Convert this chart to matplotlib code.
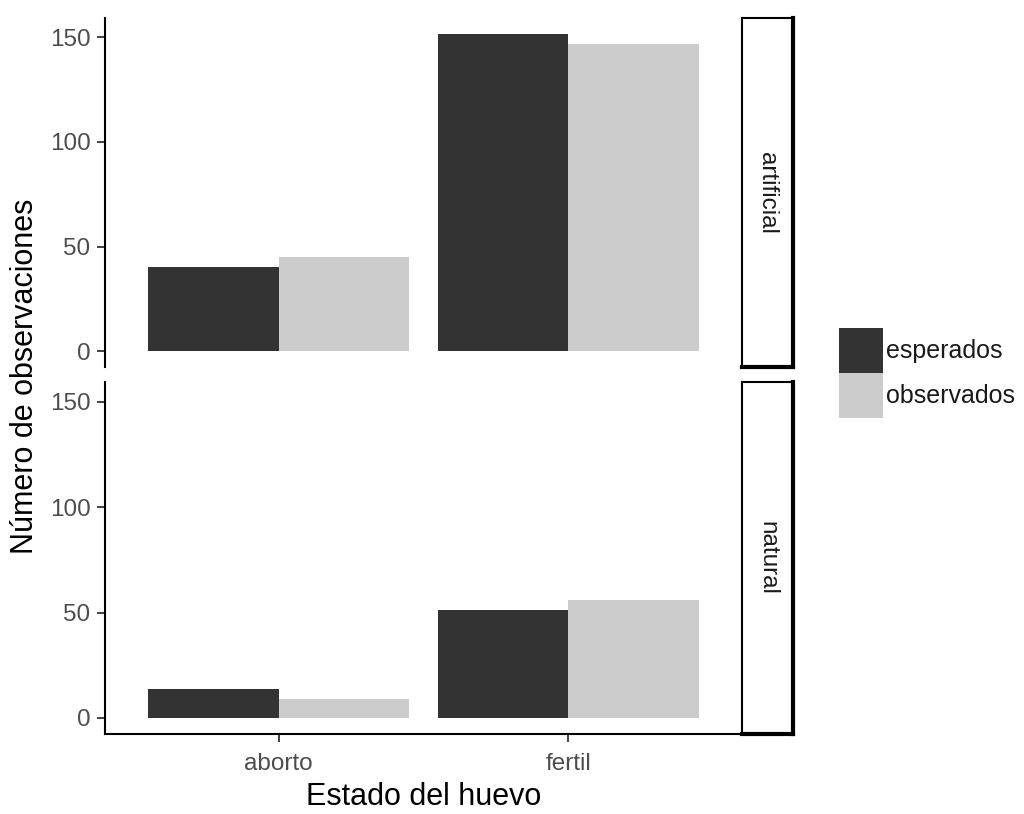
import matplotlib
matplotlib.use("Agg")
import matplotlib.pyplot as plt
from matplotlib.patches import Patch
import numpy as np

plt.rcParams['font.family'] = ['Liberation Sans', 'DejaVu Sans']

categories = ["aborto", "fertil"]
facets = ["artificial", "natural"]
series = ["esperados", "observados"]
values = {
    "artificial": {"esperados": [40.3, 151.7], "observados": [45, 147]},
    "natural": {"esperados": [13.9, 51.1], "observados": [9, 56]},
}
colors = {"esperados": "#333333", "observados": "#CCCCCC"}
yticks = [0, 50, 100, 150]

W, H = 1024, 814
fig = plt.figure(figsize=(W / 100, H / 100), dpi=100)

def frac(x0, y0, x1, y1):
    return [x0 / W, 1 - y1 / H, (x1 - x0) / W, (y1 - y0) / H]

panel_y = [(18, 367), (382, 734)]
px0, px1 = 105, 742
sx1 = 793

ymax = max(max(max(v) for v in d.values()) for d in values.values())
pad = 0.05 * ymax
x = np.arange(len(categories))
bw = 0.45
FS = 17.5

for i, facet in enumerate(facets):
    y0, y1 = panel_y[i]
    ax = fig.add_axes(frac(px0, y0, px1, y1))
    for j, s in enumerate(series):
        off = (j - 0.5) * bw
        ax.bar(x + off, values[facet][s], width=bw, color=colors[s], linewidth=0)
    ax.set_xlim(-0.6, len(categories) - 0.4)
    ax.set_ylim(-pad, ymax + pad)
    ax.set_yticks(yticks)
    ax.tick_params(axis='y', length=7.6 * 0.72, width=1.3, color='#333333',
                   labelcolor='#4D4D4D', labelsize=FS, pad=5)
    for sp in ['top', 'right']:
        ax.spines[sp].set_visible(False)
    ax.spines['left'].set_linewidth(1.5)
    ax.spines['left'].set_color('black')
    if i == len(facets) - 1:
        ax.set_xticks(x)
        ax.set_xticklabels(categories)
        ax.tick_params(axis='x', length=7.6 * 0.72, width=1.3, color='#333333',
                       labelcolor='#4D4D4D', labelsize=FS, pad=8)
        ax.spines['bottom'].set_linewidth(1.5)
        ax.spines['bottom'].set_color('black')
    else:
        ax.set_xticks([])
        ax.spines['bottom'].set_visible(False)

    # strip
    sax = fig.add_axes(frac(px1, y0, sx1, y1))
    sax.set_xticks([]); sax.set_yticks([])
    for sp in sax.spines.values():
        sp.set_color('black')
        sp.set_linewidth(1.5)
    sax.spines['right'].set_linewidth(3)
    sax.spines['bottom'].set_linewidth(3)
    sax.text(0.5, 0.5, facet, rotation=-90, ha='center', va='center',
             fontsize=FS, color='#1A1A1A', transform=sax.transAxes)

fig.text(25 / W, 1 - 376 / H, "Número de observaciones", rotation=90,
         ha='center', va='center', fontsize=22, color='black')
fig.text((px0 + px1) / 2 / W, 1 - 805 / H, "Estado del huevo",
         ha='center', va='baseline', fontsize=22, color='black')

handles = [Patch(facecolor=colors[s], edgecolor='none') for s in series]
LFS = 18
LFSpx = LFS * 100 / 72
key_h = 45.0
hh = (key_h / LFSpx - 0.245) / 0.65
leg = fig.legend(handles, series, loc='upper left',
                 bbox_to_anchor=(839 / W, 1 - 328 / H), frameon=False,
                 fontsize=LFS, handlelength=44 / LFSpx, handleheight=hh,
                 labelspacing=0, handletextpad=3 / LFSpx, borderpad=0,
                 borderaxespad=0)
for t in leg.get_texts():
    t.set_color('#1A1A1A')

fig.savefig("out.png", dpi=100)
